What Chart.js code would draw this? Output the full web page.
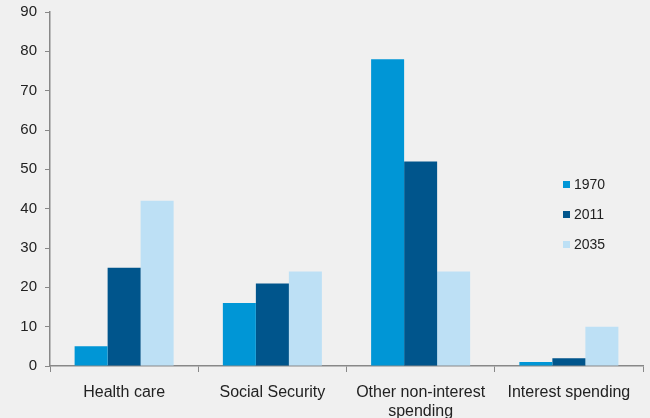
<!DOCTYPE html>
<html>
<head>
<meta charset="utf-8">
<script src="https://cdn.jsdelivr.net/npm/chart.js@4/dist/chart.umd.min.js"></script>
<style>
  html, body { margin: 0; padding: 0; background: #f0f0f0; }
  #wrap { position: relative; width: 650px; height: 418px; }
</style>
</head>
<body>
<div id="wrap"><canvas id="spending-chart" width="650" height="418"></canvas></div>
<script>
var categories = ["Health care", "Social Security", ["Other non-interest", "spending"], "Interest spending"];
var years = ["1970", "2011", "2035"];
var values1970 = [5, 16, 78, 1];
var values2011 = [25, 21, 52, 2];
var values2035 = [42, 24, 24, 10];
var yTicks = [0, 10, 20, 30, 40, 50, 60, 70, 80, 90];

var colors = ["#0096d6", "#00558c", "#bde0f5"];
var font = "'Liberation Sans', Arial, sans-serif";

// legend sits inside the plot on the right, like the original
var sideLegend = {
  id: 'sideLegend',
  afterDraw: function(chart) {
    var ctx = chart.ctx;
    ctx.save();
    ctx.font = "14px " + font;
    ctx.textBaseline = "middle";
    chart.data.datasets.forEach(function(ds, i) {
      var y = 185 + i * 30;
      ctx.fillStyle = ds.backgroundColor;
      ctx.fillRect(563, y - 4, 7, 7);
      ctx.fillStyle = "#222";
      ctx.fillText(ds.label, 574, y);
    });
    ctx.restore();
  }
};

var ctx = document.getElementById("spending-chart").getContext('2d');
var myChart = new Chart(ctx, {
  type: 'bar',
  data: {
    labels: categories,
    datasets: [
      { label: years[0], data: values1970, backgroundColor: colors[0] },
      { label: years[1], data: values2011, backgroundColor: colors[1] },
      { label: years[2], data: values2035, backgroundColor: colors[2] }
    ]
  },
  options: {
    responsive: false,
    animation: false,
    categoryPercentage: 0.668,
    barPercentage: 1,
    layout: { padding: { top: 12, right: 7, left: 0, bottom: 0 } },
    plugins: {
      legend: { display: false },
      tooltip: { enabled: false }
    },
    scales: {
      x: {
        grid: { drawOnChartArea: false, offset: true, color: '#888', tickLength: 6 },
        border: { color: '#888', width: 1.5 },
        ticks: { color: '#222', font: { family: font, size: 16 }, padding: 11, maxRotation: 0, autoSkip: false },
        afterFit: function(scale) { scale.height = 52; scale.paddingLeft = 0; scale.paddingRight = 0; }
      },
      y: {
        min: 0,
        max: 90,
        afterBuildTicks: function(scale) { scale.ticks = yTicks.map(function(v) { return { value: v }; }); },
        grid: { drawOnChartArea: false, color: '#888', tickLength: 5 },
        border: { color: '#888', width: 1.5 },
        ticks: { color: '#222', font: { family: font, size: 15 }, padding: 8 },
        afterFit: function(scale) { scale.width = 50; scale.paddingTop = 0; scale.paddingBottom = 0; }
      }
    }
  },
  plugins: [sideLegend]
});
</script>
</body>
</html>
